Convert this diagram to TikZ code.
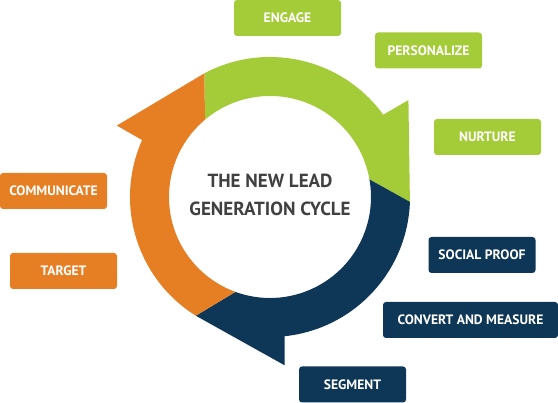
\documentclass[tikz,border=0pt]{standalone}
\usepackage{fontspec}
\setmainfont{PT Sans}
\definecolor{cgreen}{RGB}{164,204,57}
\definecolor{corange}{RGB}{230,126,36}
\definecolor{cnavy}{RGB}{14,54,86}
\definecolor{ctitle}{RGB}{64,64,64}
\tikzset{
  lbl/.style={rounded corners=3pt, minimum width=107pt, minimum height=36pt, inner sep=0pt,
    text=white, font=\fontsize{13.6}{15}\selectfont\bfseries},
  gbox/.style={lbl, fill=cgreen},
  obox/.style={lbl, fill=corange},
  nbox/.style={lbl, fill=cnavy},
}
\begin{document}
\begin{tikzpicture}[x=1pt,y=1pt]
\useasboundingbox (0,0) rectangle (558,403);
\begin{scope}[shift={(270,206)}]
  % green
  \fill[cgreen] (118:140) arc[start angle=118, end angle=36, radius=140] -- (35:169) -- (-2:140)
     -- (10:101) arc[start angle=10, end angle=130, radius=101] -- cycle;
  % navy
  \fill[cnavy] (-2:140) arc[start angle=-2, end angle=-84, radius=140] -- (-85:169) -- (-122:140)
     -- (-110:101) arc[start angle=-110, end angle=10, radius=101] -- cycle;
  % orange
  \fill[corange] (238:140) arc[start angle=238, end angle=156, radius=140] -- (155:169) -- (118:140)
     -- (130:101) arc[start angle=130, end angle=250, radius=101] -- cycle;
  \node[text=ctitle, font=\fontsize{19}{28}\selectfont\bfseries, align=center] (title) at (0,2)
    {THE NEW LEAD\\GENERATION CYCLE};
\end{scope}
\node[gbox] (engage) at (287.5,385) {ENGAGE};
\node[gbox] (personalize) at (428.5,352.5) {PERSONALIZE};
\node[gbox] (nurture) at (487.5,266) {NURTURE};
\node[obox] (communicate) at (53.5,212) {COMMUNICATE};
\node[obox] (target) at (63.5,132) {TARGET};
\node[nbox] (social) at (482,148) {SOCIAL PROOF};
\node[nbox, minimum width=175pt] (convert) at (470.5,83) {CONVERT AND MEASURE};
\node[nbox] (segment) at (352.5,18.5) {SEGMENT};
\end{tikzpicture}
\end{document}
